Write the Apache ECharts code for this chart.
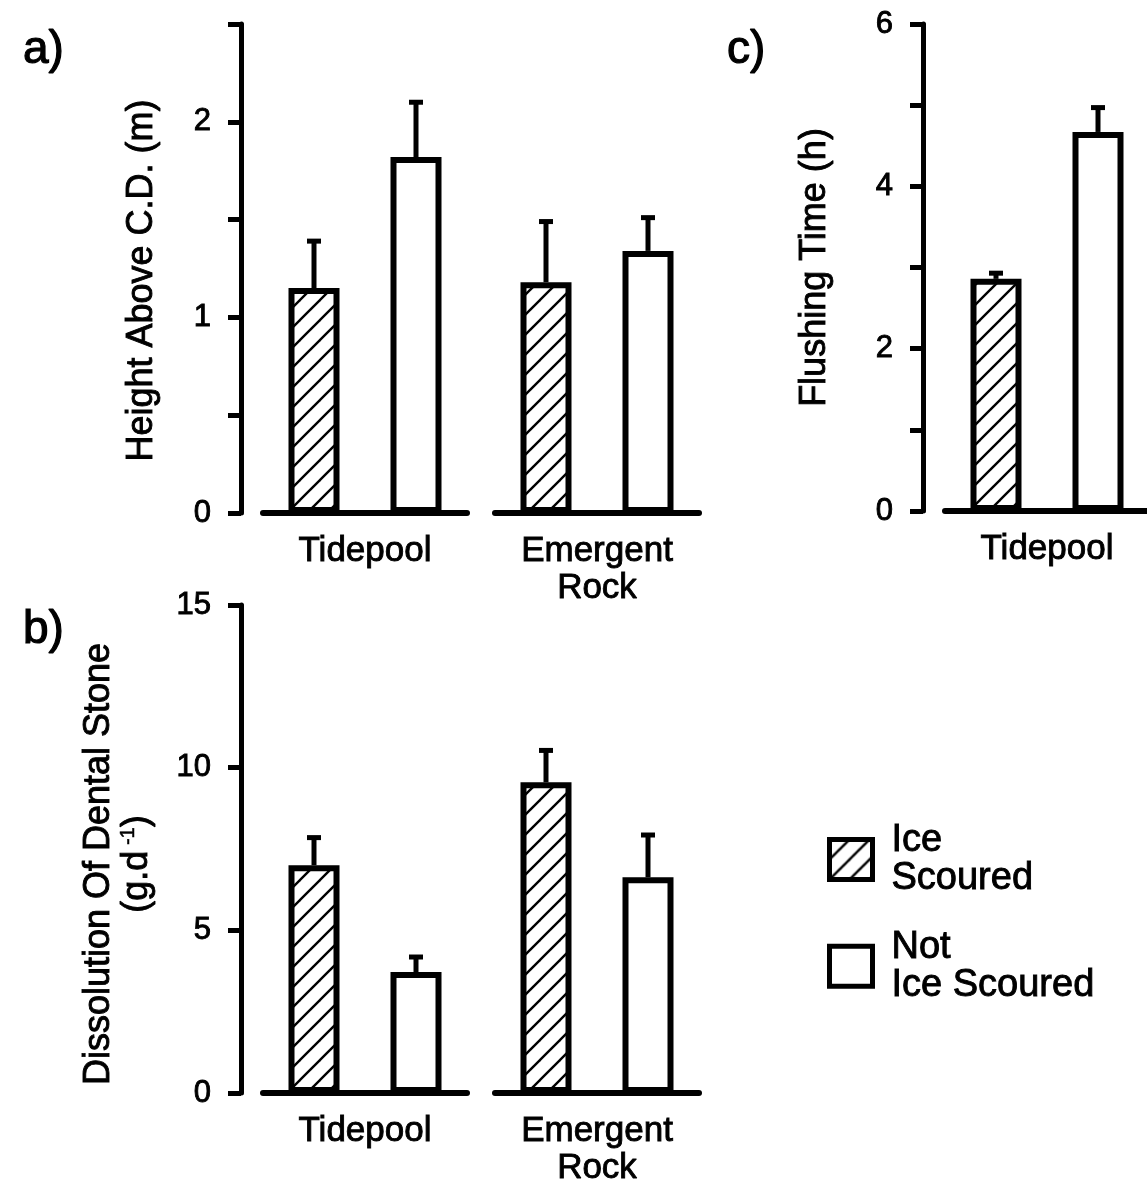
<!DOCTYPE html>
<html>
<head>
<meta charset="utf-8">
<script src="https://cdn.jsdelivr.net/npm/echarts@6/dist/echarts.min.js"></script>
<style>
  html, body { margin: 0; padding: 0; background: #fff; }
  #chart { width: 1147px; height: 1187px; }
</style>
</head>
<body>
<div id="chart"></div>
<script>
// ---- data ----------------------------------------------------------------
const sites = ['Tidepool', 'Emergent\nRock'];
const treatments = ['Ice\nScoured', 'Not\nIce Scoured'];

// a) height above chart datum (m): means and upper ends of the error bars
const heightIce = [1.15, 1.18];
const heightIceUpper = [1.39, 1.49];
const heightNot = [1.82, 1.34];
const heightNotUpper = [2.10, 1.51];

// b) dissolution of dental stone (g.d-1)
const dissIce = [7.0, 9.55];
const dissIceUpper = [7.85, 10.53];
const dissNot = [3.72, 6.63];
const dissNotUpper = [4.18, 7.93];

// c) flushing time (h), tidepools only
const flushSites = ['Tidepool'];
const flushIce = [2.86];
const flushIceUpper = [2.93];
const flushNot = [4.67];
const flushNotUpper = [4.97];

// value axes: range, tick step and which ticks carry a label
const heightTicks = { min: 0, max: 2.5, step: 0.5, labels: [0, 1, 2] };
const dissTicks = { min: 0, max: 15, step: 5, labels: [0, 5, 10, 15] };
const flushTicks = { min: 0, max: 6, step: 1, labels: [0, 2, 4, 6] };

// ---- styling ---------------------------------------------------------------
const FONT = '"Liberation Sans", Arial, Helvetica, sans-serif';
const INK = '#000';
// a thin outline in the text colour gives the lettering its heavier weight
const HEAVY = { textBorderColor: INK, textBorderWidth: 0.9 };

function txt(size, extra) {
  return Object.assign({ fontFamily: FONT, fontSize: size, fontWeight: 'normal', color: INK }, HEAVY, extra || {});
}

// diagonal "/" hatching used for the ice-scoured bars
function makeHatch() {
  const W = 20, H = 20;
  const c = document.createElement('canvas');
  c.width = W; c.height = H;
  const ctx = c.getContext('2d');
  ctx.fillStyle = '#fff';
  ctx.fillRect(0, 0, W, H);
  ctx.strokeStyle = INK;
  ctx.lineWidth = 2.4;
  for (let k = -1; k <= 1; k++) {
    ctx.beginPath();
    ctx.moveTo(-4, H + k * H + 4 * H / W);
    ctx.lineTo(W + 4, k * H - 4 * H / W);
    ctx.stroke();
  }
  return { image: c, repeat: 'repeat' };
}
const hatch = makeHatch();

// one-sided (upper) error bar: stem from the bar top to the upper value, with a cap
function renderErr(params, api) {
  const base = api.coord([api.value(0), api.value(1)]);
  const tip = api.coord([api.value(0), api.value(2)]);
  const half = 7;
  return {
    type: 'group',
    children: [
      { type: 'line', shape: { x1: base[0], y1: base[1], x2: base[0], y2: tip[1] },
        style: { stroke: INK, lineWidth: 5 } },
      { type: 'line', shape: { x1: base[0] - half, y1: tip[1], x2: base[0] + half, y2: tip[1] },
        style: { stroke: INK, lineWidth: 5 } }
    ]
  };
}

const grid = [], xAxis = [], yAxis = [], series = [];

function addGroup(box, site, ticks, yName, yNameOpts, ice, iceUp, not, notUp) {
  const idx = grid.length;
  grid.push(Object.assign({ outerBoundsMode: 'none', containLabel: false }, box));
  xAxis.push({
    gridIndex: idx,
    type: 'category',
    data: treatments,
    axisLine: { show: true, onZero: false, lineStyle: { color: INK, width: 6 } },
    axisTick: { show: false },
    axisLabel: { show: false },
    splitLine: { show: false },
    name: site,
    nameLocation: 'middle',
    nameGap: 20,
    nameMoveOverlap: false,
    nameTextStyle: txt(35, { lineHeight: 37, verticalAlign: 'top' })
  });
  const showY = !!yName;
  yAxis.push({
    gridIndex: idx,
    type: 'value',
    min: ticks.min,
    max: ticks.max,
    interval: ticks.step,
    show: showY,
    offset: 22,
    axisLine: { show: true, lineStyle: { color: INK, width: 5 } },
    axisTick: { show: true, inside: false, length: 13, lineStyle: { color: INK, width: 5 } },
    axisLabel: Object.assign(txt(31), {
      margin: 30,
      formatter: v => (ticks.labels.some(t => Math.abs(t - v) < 1e-9) ? String(v) : '')
    }),
    splitLine: { show: false },
    name: yName || '',
    nameLocation: 'middle',
    nameRotate: 90,
    nameMoveOverlap: false,
    nameGap: yNameOpts ? yNameOpts.gap : 0,
    nameTextStyle: txt(36, yNameOpts ? yNameOpts.style : {})
  });
  series.push({
    type: 'bar', name: treatments[0], xAxisIndex: idx, yAxisIndex: idx,
    data: [ice, '-'], barWidth: '50%', barGap: '-100%', silent: true,
    itemStyle: { color: hatch, borderColor: INK, borderWidth: 6 }
  });
  series.push({
    type: 'bar', name: treatments[1], xAxisIndex: idx, yAxisIndex: idx,
    data: ['-', not], barWidth: '50%', barGap: '-100%', silent: true,
    itemStyle: { color: '#fff', borderColor: INK, borderWidth: 6 }
  });
  series.push({
    type: 'custom', name: 'error', xAxisIndex: idx, yAxisIndex: idx, silent: true, z: 5,
    renderItem: renderErr,
    encode: { x: 0, y: [1, 2] },
    data: [[0, ice, iceUp], [1, not, notUp]]
  });
}

// a) height above C.D.
addGroup({ left: 263, top: 24, width: 204, height: 489 }, sites[0], heightTicks,
  'Height Above C.D. (m)', { gap: 81, style: { padding: [0, 24, 0, 0] } },
  heightIce[0], heightIceUpper[0], heightNot[0], heightNotUpper[0]);
addGroup({ left: 495, top: 24, width: 204, height: 489 }, sites[1], heightTicks,
  null, null,
  heightIce[1], heightIceUpper[1], heightNot[1], heightNotUpper[1]);

// b) dissolution of dental stone
addGroup({ left: 263, top: 605, width: 204, height: 488 }, sites[0], dissTicks,
  '{t|Dissolution Of Dental Stone}\n{t|(g.d}{s| -1}{t|)}',
  { gap: 85, style: { padding: [0, 30, 0, 0], lineHeight: 38,
      rich: { t: txt(36, { lineHeight: 38 }),
              s: txt(20, { lineHeight: 38, verticalAlign: 'top', padding: [0, 0, 14, 0], textBorderWidth: 0.5 }) } } },
  dissIce[0], dissIceUpper[0], dissNot[0], dissNotUpper[0]);
addGroup({ left: 495, top: 605, width: 204, height: 488 }, sites[1], dissTicks,
  null, null,
  dissIce[1], dissIceUpper[1], dissNot[1], dissNotUpper[1]);

// c) flushing time
addGroup({ left: 945, top: 24, width: 204, height: 487 }, flushSites[0], flushTicks,
  'Flushing Time (h)', { gap: 90, style: {} },
  flushIce[0], flushIceUpper[0], flushNot[0], flushNotUpper[0]);

const chart = echarts.init(document.getElementById('chart'), null, { renderer: 'canvas' });
chart.setOption({
  backgroundColor: '#fff',
  animation: false,
  title: [
    { text: 'a)', left: 18, top: 22, textStyle: txt(46, { textBorderWidth: 1.2 }) },
    { text: 'b)', left: 18, top: 602, textStyle: txt(46, { textBorderWidth: 1.2 }) },
    { text: 'c)', left: 722, top: 22, textStyle: txt(46, { textBorderWidth: 1.2 }) }
  ],
  legend: {
    data: treatments,
    orient: 'vertical',
    left: 822,
    top: 816,
    icon: 'rect',
    itemWidth: 43,
    itemHeight: 40,
    itemGap: 30,
    selectedMode: false,
    itemStyle: { borderColor: INK, borderWidth: 5 },
    textStyle: txt(38, { lineHeight: 38, padding: [0, 0, 0, 14] })
  },
  grid, xAxis, yAxis, series
});
</script>
</body>
</html>
